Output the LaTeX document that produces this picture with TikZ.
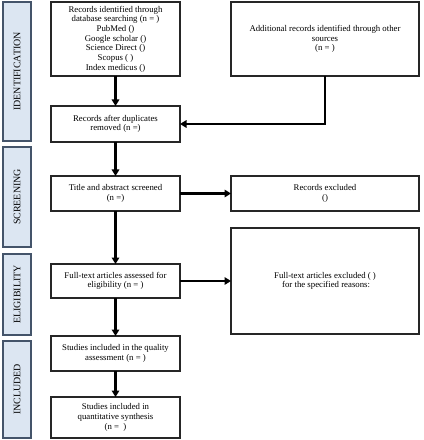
\documentclass[tikz,border=0pt]{standalone}
\usepackage{fontspec}
\setmainfont{Liberation Serif}
\usetikzlibrary{arrows.meta}
\definecolor{barfill}{HTML}{DCE6F2}
\definecolor{barline}{HTML}{44546A}
\begin{document}
\begin{tikzpicture}[x=1bp,y=-1bp,
  box/.style={draw=black!85,line width=1.2bp,fill=white,inner sep=0pt,outer sep=0pt,
    align=center,font=\fontsize{8.8}{9.7}\selectfont},
  bar/.style={draw=barline,line width=1.3bp,fill=barfill,inner sep=0pt,outer sep=0pt,
    rotate=90,font=\fontsize{10}{12}\selectfont},
  arr/.style={line width=2.2bp,-{Triangle[length=6.5bp,width=7.5bp]}}]
\useasboundingbox (0,0) rectangle (423,440);
% phase bars
\node[bar,minimum width=139bp,minimum height=28bp] (pid) at (17,71.5) {IDENTIFICATION};
\node[bar,minimum width=100bp,minimum height=28bp] (pscr) at (17,197) {SCREENING};
\node[bar,minimum width=81bp,minimum height=28bp] (pelg) at (17,294.5) {ELIGIBILITY};
\node[bar,minimum width=97bp,minimum height=28bp] (pinc) at (17,389.5) {INCLUDED};
% main column
\node[box,minimum width=129bp,minimum height=74bp] (b1) at (115.5,39)
  {Records identified through\\database searching (n = )\\PubMed ()\\Google scholar ()\\Science Direct ()\\Scopus ( )\\Index medicus ()};
\node[box,minimum width=129bp,minimum height=36bp] (b2) at (115.5,124)
  {Records after duplicates\\removed (n =)};
\node[box,minimum width=129bp,minimum height=35bp] (b3) at (115.5,193.5)
  {Title and abstract screened\\(n =)};
\node[box,minimum width=129bp,minimum height=34bp] (b4) at (115.5,281)
  {Full-text articles assessed for\\eligibility (n = )};
\node[box,minimum width=129bp,minimum height=35bp] (b5) at (115.5,353.5)
  {Studies included in the quality\\assessment (n = )};
\node[box,minimum width=129bp,minimum height=41bp] (b6) at (115.5,417.5)
  {Studies included in\\quantitative synthesis\\(n =\ \ )};
% right column
\node[box,minimum width=188bp,minimum height=74bp] (r1) at (325,39)
  {Additional records identified through other\\sources\\(n = )};
\node[box,minimum width=188bp,minimum height=35bp] (r2) at (325,193.5)
  {Records excluded\\()};
\node[box,minimum width=188bp,minimum height=106bp] (r3) at (325,281)
  {Full-text articles excluded ( )\\\ for the specified reasons:};
% connectors
\draw[arr] (b1) -- (b2);
\draw[arr] (r1.south) |- (b2.east);
\draw[arr] (b2) -- (b3);
\draw[arr] (b3) -- (r2);
\draw[arr] (b3) -- (b4);
\draw[arr] (b4) -- (r3);
\draw[arr] (b4) -- (b5);
\draw[arr] (b5) -- (b6);
\end{tikzpicture}
\end{document}
